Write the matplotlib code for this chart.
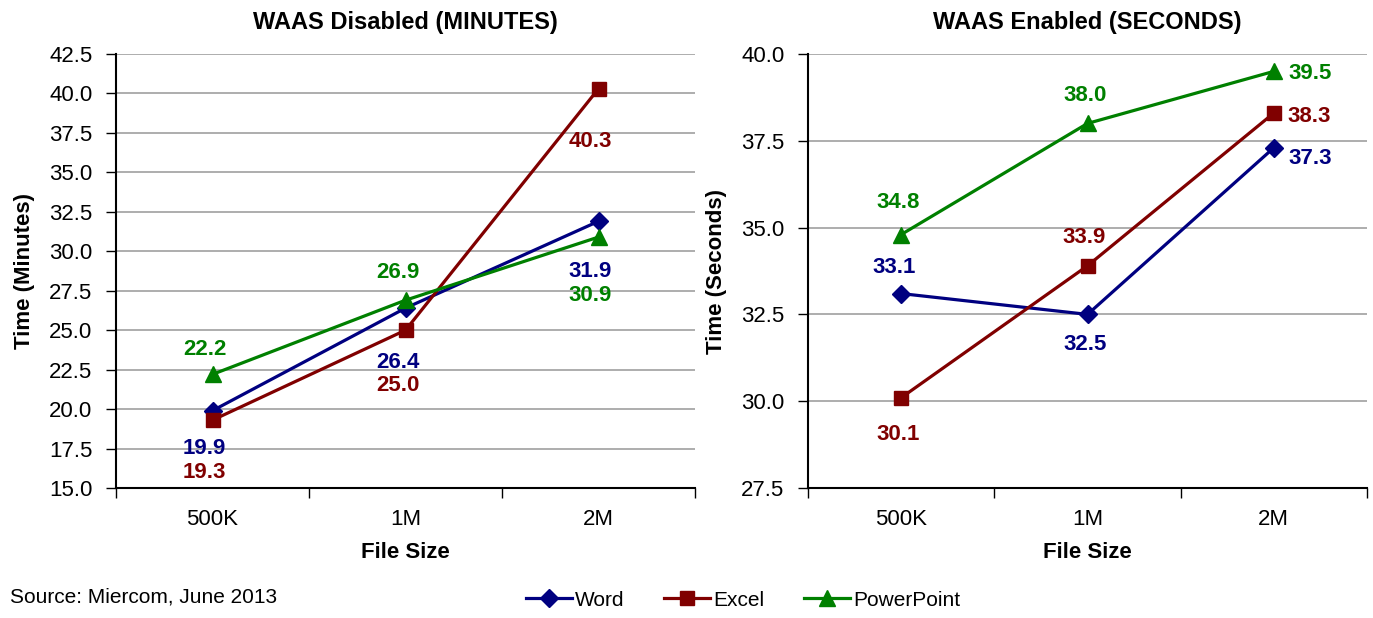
import matplotlib.pyplot as plt
import numpy as np

# data
sizes = ['500K', '1M', '2M']
series = ['Word', 'Excel', 'PowerPoint']

# WAAS disabled (minutes)
dis_word = [19.9, 26.4, 31.9]
dis_excel = [19.3, 25.0, 40.3]
dis_ppt = [22.2, 26.9, 30.9]

# WAAS enabled (seconds)
en_word = [33.1, 32.5, 37.3]
en_excel = [30.1, 33.9, 38.3]
en_ppt = [34.8, 38.0, 39.5]

colors = {'Word': '#000080', 'Excel': '#800000', 'PowerPoint': '#008000'}
markers = {'Word': 'D', 'Excel': 's', 'PowerPoint': '^'}
msize = {'Word': 9, 'Excel': 10, 'PowerPoint': 11}

# label offsets (pixels) per series / point
dis_off = {
    'Word': [(-8, -38), (-8, -54), (-8, -50)],
    'Excel': [(-8, -52), (-8, -55), (-8, -53)],
    'PowerPoint': [(-8, 25), (-8, 28), (-8, -58)],
}
en_off = {
    'Word': [(-7, 26), (-2, -30), (36, -11)],
    'Excel': [(-3, -37), (-3, 28), (35, -3)],
    'PowerPoint': [(-3, 32), (-2, 28), (36, -2)],
}

plt.rcParams['font.family'] = ['Liberation Sans', 'DejaVu Sans']

fig = plt.figure(figsize=(13.73, 6.18), dpi=100)
ax1 = fig.add_axes([116/1373, 1-488/618, (695-116)/1373, (488-54)/618])
ax2 = fig.add_axes([808/1373, 1-488/618, (1367-808)/1373, (488-54)/618])


def draw(ax, data, offs, ylim, ystep, title, ylabel):
    x = np.arange(len(sizes))
    for name in series:
        vals = data[name]
        ax.plot(x, vals, color=colors[name], marker=markers[name],
                markersize=msize[name], linewidth=2.3, label=name, zorder=3)
        for i, v in enumerate(vals):
            dx, dy = offs[name][i]
            ax.annotate(f'{v:.1f}', (x[i], v), xytext=(dx*0.72, dy*0.72),
                        textcoords='offset points', ha='center', va='center',
                        fontsize=16, fontweight='bold', color=colors[name])
    ax.set_xlim(-0.5, 2.5)
    ax.set_ylim(*ylim)
    ax.set_yticks(np.arange(ylim[0], ylim[1] + 0.01, ystep))
    ax.yaxis.set_major_formatter(plt.FormatStrFormatter('%.1f'))
    ax.set_xticks(x)
    ax.set_xticklabels(sizes)
    ax.set_xticks([-0.5, 0.5, 1.5, 2.5], minor=True)
    ax.tick_params(axis='x', which='major', length=0, labelsize=16, pad=15)
    ax.tick_params(axis='x', which='minor', length=7, direction='out', width=1)
    ax.tick_params(axis='y', labelsize=16, length=7, width=1, direction='out', pad=10)
    ax.grid(axis='y', color='#a0a0a0', linewidth=1.2)
    ax.set_axisbelow(True)
    for s in ['top', 'right']:
        ax.spines[s].set_visible(False)
    ax.spines['left'].set_linewidth(1.5)
    ax.spines['bottom'].set_linewidth(1.5)
    ax.set_title(title, fontsize=17, fontweight='bold', pad=18)
    ax.set_ylabel(ylabel, fontsize=16, fontweight='bold', labelpad=10)
    ax.set_xlabel('File Size', fontsize=16, fontweight='bold', labelpad=9)


draw(ax1, {'Word': dis_word, 'Excel': dis_excel, 'PowerPoint': dis_ppt},
     dis_off, (15.0, 42.5), 2.5, 'WAAS Disabled (MINUTES)', 'Time (Minutes)')
draw(ax2, {'Word': en_word, 'Excel': en_excel, 'PowerPoint': en_ppt},
     en_off, (27.5, 40.0), 2.5, 'WAAS Enabled (SECONDS)', 'Time (Seconds)')

handles, labels = ax1.get_legend_handles_labels()
fig.legend(handles, labels, loc='center', bbox_to_anchor=(743/1373, 1-600/618),
           ncol=3, frameon=False, fontsize=15, handlelength=2.2,
           handletextpad=0.15, columnspacing=1.9)

fig.text(10/1373, 1-597/618, 'Source: Miercom, June 2013', fontsize=15,
         ha='left', va='center')

fig.savefig('out.png', dpi=100)
